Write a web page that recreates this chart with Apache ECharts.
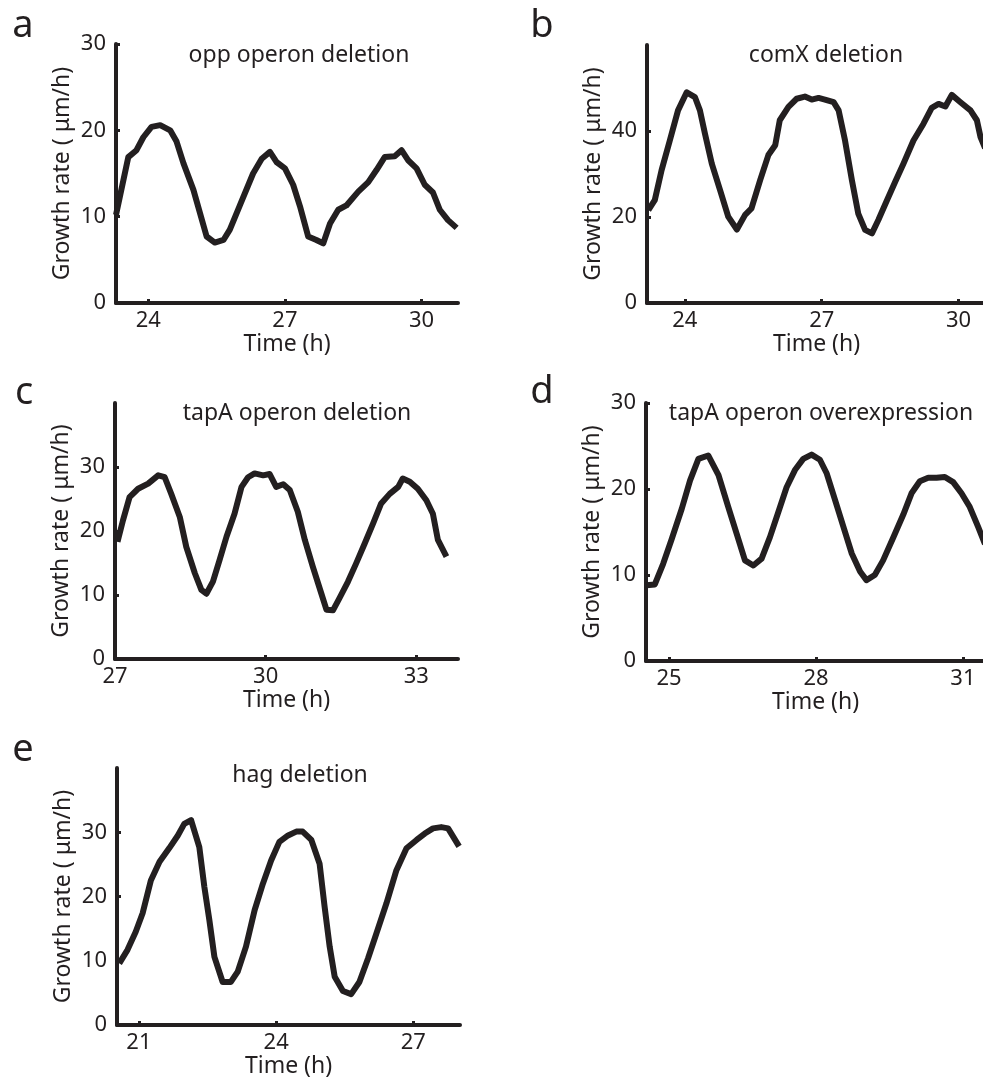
<!DOCTYPE html>
<html>
<head>
<meta charset="utf-8">
<script src="https://cdn.jsdelivr.net/npm/echarts@6/dist/echarts.min.js"></script>
<style>
html, body { margin: 0; padding: 0; background: #fff; }
#draw { width: 983px; height: 1082px; }
</style>
</head>
<body>
<div id="draw"></div>
<script>
// growth rate oscillations, five strains

var letters = ['a', 'b', 'c', 'd', 'e'];
var titles = ['opp operon deletion', 'comX deletion', 'tapA operon deletion', 'tapA operon overexpression', 'hag deletion'];

var aTime = [23.29, 23.56, 23.74, 23.89, 24.07, 24.26, 24.48, 24.62, 24.77, 24.99, 25.28, 25.46, 25.65, 25.79, 26.01, 26.30, 26.49, 26.67, 26.82, 27.00, 27.18, 27.33, 27.51, 27.69, 27.84, 27.99, 28.17, 28.35, 28.61, 28.83, 29.01, 29.19, 29.41, 29.56, 29.71, 29.89, 30.07, 30.25, 30.40, 30.58, 30.77];
var aRate = [10.2, 16.9, 17.7, 19.2, 20.4, 20.6, 20.0, 18.7, 16.2, 13.1, 7.7, 7.0, 7.3, 8.5, 11.3, 15.0, 16.7, 17.5, 16.3, 15.6, 13.7, 11.2, 7.7, 7.3, 6.9, 9.2, 10.8, 11.3, 12.9, 14.0, 15.4, 16.9, 17.0, 17.7, 16.5, 15.6, 13.7, 12.8, 10.8, 9.6, 8.7];

var bTime = [23.20, 23.34, 23.49, 23.67, 23.85, 24.04, 24.22, 24.33, 24.44, 24.59, 24.77, 24.95, 25.14, 25.32, 25.46, 25.65, 25.83, 25.98, 26.08, 26.27, 26.45, 26.63, 26.78, 26.93, 27.07, 27.26, 27.37, 27.51, 27.66, 27.80, 27.95, 28.10, 28.24, 28.43, 28.61, 28.79, 29.01, 29.23, 29.41, 29.56, 29.71, 29.85, 30.04, 30.26, 30.40, 30.48, 30.58];
var bRate = [21.6, 23.9, 30.9, 37.8, 44.8, 49.0, 47.9, 44.8, 39.4, 32.4, 26.3, 20.1, 17.1, 20.5, 22.0, 28.6, 34.4, 36.7, 42.5, 45.6, 47.5, 48.0, 47.3, 47.7, 47.3, 46.7, 44.8, 37.8, 28.6, 20.8, 17.0, 16.2, 19.3, 23.9, 28.2, 32.4, 37.8, 41.7, 45.4, 46.3, 45.7, 48.4, 46.7, 44.8, 42.5, 38.6, 36.0];

var cTime = [27.05, 27.16, 27.29, 27.46, 27.66, 27.86, 27.99, 28.12, 28.29, 28.42, 28.59, 28.72, 28.82, 28.95, 29.08, 29.22, 29.38, 29.52, 29.65, 29.78, 29.95, 30.08, 30.21, 30.35, 30.48, 30.64, 30.78, 30.94, 31.11, 31.21, 31.34, 31.47, 31.64, 31.80, 31.97, 32.14, 32.30, 32.47, 32.64, 32.73, 32.87, 33.03, 33.20, 33.33, 33.43, 33.60];
var cRate = [18.3, 21.7, 25.3, 26.6, 27.4, 28.7, 28.4, 25.8, 22.2, 17.5, 13.4, 10.8, 10.2, 12.1, 15.4, 19.1, 22.7, 26.9, 28.4, 29.0, 28.7, 28.9, 26.9, 27.3, 26.4, 23.0, 18.6, 14.4, 10.2, 7.7, 7.6, 9.5, 12.1, 14.9, 18.0, 21.2, 24.3, 25.8, 26.9, 28.2, 27.7, 26.6, 24.8, 22.7, 18.6, 16.0];

var dTime = [24.54, 24.71, 24.88, 25.05, 25.26, 25.43, 25.60, 25.80, 26.01, 26.21, 26.38, 26.55, 26.72, 26.89, 27.06, 27.23, 27.40, 27.57, 27.74, 27.91, 28.08, 28.22, 28.39, 28.56, 28.73, 28.90, 29.03, 29.20, 29.37, 29.58, 29.78, 29.95, 30.12, 30.29, 30.46, 30.63, 30.80, 30.97, 31.14, 31.31, 31.45];
var dRate = [8.8, 8.9, 11.3, 14.1, 17.7, 21.0, 23.5, 23.9, 21.6, 17.9, 14.8, 11.7, 11.1, 11.9, 14.4, 17.3, 20.2, 22.2, 23.5, 24.0, 23.4, 21.8, 18.7, 15.6, 12.5, 10.4, 9.4, 10.0, 11.7, 14.4, 17.0, 19.5, 20.9, 21.3, 21.3, 21.4, 20.8, 19.5, 17.9, 15.6, 13.6];

var eTime = [20.57, 20.75, 20.93, 21.08, 21.26, 21.45, 21.66, 21.85, 21.99, 22.14, 22.32, 22.43, 22.54, 22.65, 22.83, 23.01, 23.16, 23.34, 23.53, 23.71, 23.89, 24.07, 24.26, 24.44, 24.58, 24.77, 24.95, 25.06, 25.17, 25.28, 25.46, 25.64, 25.82, 26.01, 26.19, 26.41, 26.63, 26.85, 27.07, 27.25, 27.43, 27.61, 27.76, 28.00];
var eRate = [9.6, 11.7, 14.5, 17.4, 22.5, 25.4, 27.5, 29.5, 31.3, 31.9, 27.7, 21.5, 16.3, 10.6, 6.7, 6.7, 8.3, 12.2, 17.9, 22.0, 25.6, 28.5, 29.5, 30.1, 30.1, 28.8, 25.1, 18.4, 12.2, 7.5, 5.3, 4.8, 6.7, 10.4, 14.2, 18.9, 24.1, 27.5, 28.8, 29.8, 30.6, 30.8, 30.6, 27.8];

var xTicks = [[24, 27, 30], [24, 27, 30], [27, 30, 33], [25, 28, 31], [21, 24, 27]];
var yTicks = [[0, 10, 20, 30], [0, 20, 40], [0, 10, 20, 30], [0, 10, 20, 30], [0, 10, 20, 30]];
var xRange = [[23.29, 30.80], [23.17, 30.60], [27, 33.83], [24.53, 31.45], [20.52, 28.02]];
var yMax = [30, 60, 40, 30, 40];

var times = [aTime, bTime, cTime, dTime, eTime];
var rates = [aRate, bRate, cRate, dRate, eRate];

// where each panel sits on the page
var boxes = [
	{ left : 116, top : 44, width : 342, height : 259 },
	{ left : 647, top : 45, width : 339, height : 258 },
	{ left : 115, top : 403, width : 343, height : 256 },
	{ left : 646, top : 403, width : 339, height : 258 },
	{ left : 117, top : 768, width : 343, height : 257 }
];
var letterPos = [[23, 26], [542, 26], [24, 393], [542, 392], [23, 750]];
var titlePos = [[299, 55], [826, 55], [297, 413], [821, 413], [300, 775]];

var ink = '#231f20';
var font = 'Noto Sans';

var myChart = echarts.init(document.getElementById('draw'));

var grids = [], xAxes = [], yAxes = [], series = [], graphics = [];

boxes.forEach(function(b, i) {
	grids.push({
		left : b.left,
		top : b.top,
		width : b.width,
		height : b.height,
		containLabel : false,
		outerBoundsMode : 'none'
	});
	xAxes.push({
		type : 'value',
		gridIndex : i,
		min : xRange[i][0],
		max : xRange[i][1],
		name : 'Time (h)',
		nameLocation : 'middle',
		nameGap : 29,
		nameTextStyle : { color : ink, fontSize : 23, fontFamily : font },
		splitLine : { show : false },
		axisLine : { onZero : false, lineStyle : { color : ink, width : 4 } },
		axisTick : { inside : true, length : 4, customValues : xTicks[i], lineStyle : { color : ink, width : 3 } },
		axisLabel : { customValues : xTicks[i], margin : 7, color : ink, fontSize : 22, fontFamily : font }
	});
	yAxes.push({
		type : 'value',
		gridIndex : i,
		min : 0,
		max : yMax[i],
		name : 'Growth rate ( \u03bcm/h)',
		nameLocation : 'middle',
		nameGap : 42,
		nameTextStyle : { color : ink, fontSize : 23, fontFamily : font },
		splitLine : { show : false },
		axisLine : { onZero : false, lineStyle : { color : ink, width : 4 } },
		axisTick : { inside : true, length : 4, customValues : yTicks[i], lineStyle : { color : ink, width : 3 } },
		axisLabel : { customValues : yTicks[i], margin : 10, color : ink, fontSize : 22, fontFamily : font }
	});
	series.push({
		type : 'line',
		xAxisIndex : i,
		yAxisIndex : i,
		symbol : 'none',
		animation : false,
		lineStyle : { color : ink, width : 6, join : 'round' },
		data : times[i].map(function(t, k) {
			return [t, rates[i][k]];
		})
	});
	graphics.push({
		type : 'text',
		x : letterPos[i][0],
		y : letterPos[i][1],
		style : {
			text : letters[i],
			fill : ink,
			font : '38px "' + font + '"',
			textAlign : 'center',
			textVerticalAlign : 'middle'
		}
	});
	graphics.push({
		type : 'text',
		x : titlePos[i][0],
		y : titlePos[i][1],
		style : {
			text : titles[i],
			fill : ink,
			font : '23px "' + font + '"',
			textAlign : 'center',
			textVerticalAlign : 'middle'
		}
	});
});

var option = {
	backgroundColor : '#fff',
	animation : false,
	grid : grids,
	xAxis : xAxes,
	yAxis : yAxes,
	series : series,
	graphic : graphics
};
myChart.setOption(option);
</script>
</body>
</html>
